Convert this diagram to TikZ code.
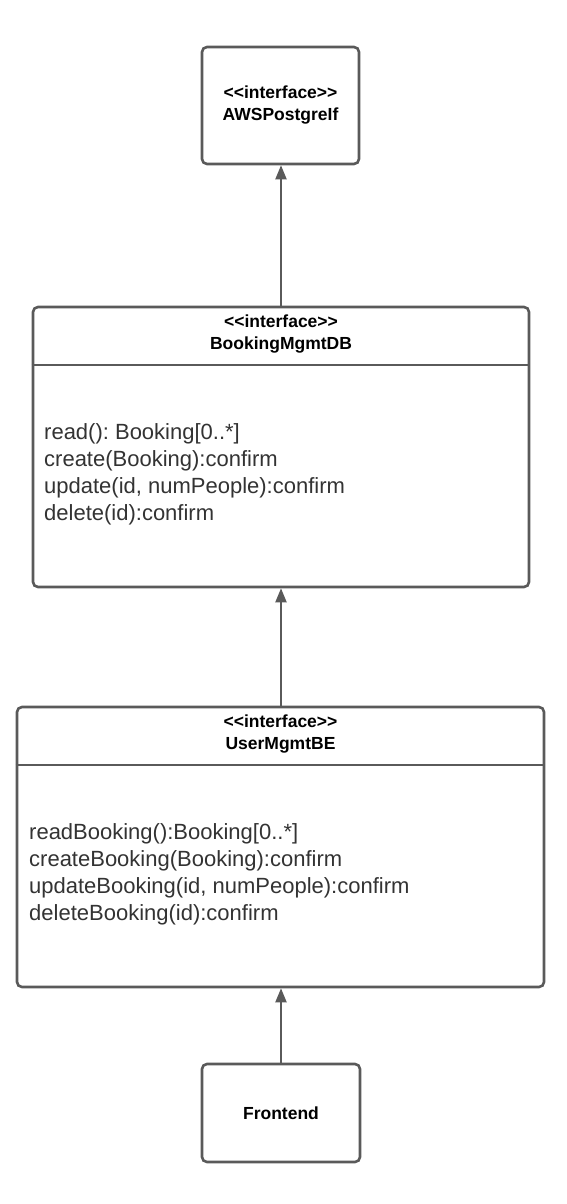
\documentclass[tikz,border=0pt]{standalone}
\usepackage{fontspec}
\setmainfont{Liberation Sans}[Ligatures=TeXOff]
\usetikzlibrary{positioning, arrows.meta}
\frenchspacing

\definecolor{umlgray}{RGB}{90,90,90}
\definecolor{methodgray}{RGB}{51,51,51}

\begin{document}
\begin{tikzpicture}[
    x=1pt, y=-1pt,
    box/.style={rectangle, draw=umlgray, line width=2.6pt, rounded corners=5pt,
                fill=white, inner sep=0pt},
    header/.style={font=\fontsize{17.5}{22}\selectfont\bfseries, align=center,
                   text=black},
    methods/.style={font=\fontsize{22}{27}\selectfont, align=left,
                    text=methodgray, anchor=west, inner sep=0pt},
    arrow/.style={-{Triangle[length=14pt, width=11pt]}, draw=umlgray,
                  fill=umlgray, line width=2pt}
]
    \useasboundingbox (0,0) rectangle (567,1204);

    % AWS interface
    \node[box, minimum width=157pt, minimum height=117pt] (aws) at (280.5,105.5) {};
    \node[header] at (aws.center) {<<interface>>\\AWSPostgreIf};

    % Booking DB
    \node[box, minimum width=496pt, minimum height=280pt] (db) at (281,447) {};
    \node[header] at (281,334) {<<interface>>\\BookingMgmtDB};
    \draw[umlgray, line width=2.6pt] (db.west |- 0,365) -- (db.east |- 0,365);
    \node[methods] at (44,474) {read(): Booking[0..*]\\create(Booking):confirm\\
        update(id, numPeople):confirm\\delete(id):confirm};

    % User backend
    \node[box, minimum width=527pt, minimum height=280pt] (be) at (280.5,847) {};
    \node[header] at (280.5,734) {<<interface>>\\UserMgmtBE};
    \draw[umlgray, line width=2.6pt] (be.west |- 0,765) -- (be.east |- 0,765);
    \node[methods] at (29,874) {readBooking():Booking[0..*]\\createBooking(Booking):confirm\\
        updateBooking(id, numPeople):confirm\\deleteBooking(id):confirm};

    % Frontend
    \node[box, minimum width=158pt, minimum height=98pt] (fe) at (281,1113) {};
    \node[header] at (fe.center) {Frontend};

    % Arrows
    \draw[arrow] (db.north -| 281,0) -- (aws.south -| 281,0);
    \draw[arrow] (be.north -| 281,0) -- (db.south -| 281,0);
    \draw[arrow] (fe.north -| 281,0) -- (be.south -| 281,0);

\end{tikzpicture}
\end{document}
